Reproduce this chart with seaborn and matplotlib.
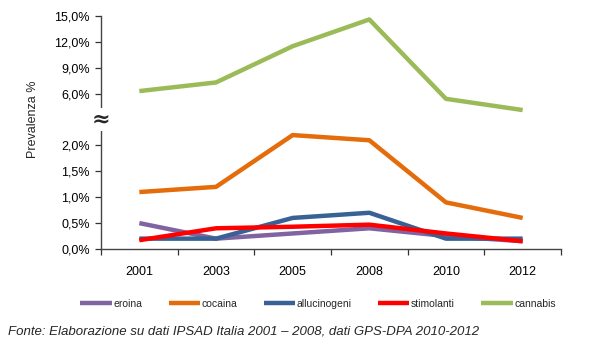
import numpy as np
import pandas as pd
import matplotlib
matplotlib.use("Agg")
import matplotlib.pyplot as plt
from matplotlib.lines import Line2D
import seaborn as sns

years = ["2001", "2003", "2005", "2008", "2010", "2012"]
eroina = [0.5, 0.2, 0.3, 0.4, 0.25, 0.15]
cocaina = [1.1, 1.2, 2.2, 2.1, 0.9, 0.6]
allucinogeni = [0.2, 0.2, 0.6, 0.7, 0.2, 0.2]
stimolanti = [0.17, 0.4, 0.43, 0.47, 0.3, 0.15]
cannabis = [6.3, 7.3, 11.5, 14.6, 5.4, 4.1]

series_names = ["eroina", "cocaina", "allucinogeni", "stimolanti", "cannabis"]
series_vals = [eroina, cocaina, allucinogeni, stimolanti, cannabis]
colors = ["#8064A2", "#E46C0A", "#386295", "#FF0000", "#9BBB59"]
ytick_vals = [0.0, 0.5, 1.0, 1.5, 2.0, 6.0, 9.0, 12.0, 15.0]

rows = []
for name, vals in zip(series_names, series_vals):
    for i, (y, v) in enumerate(zip(years, vals)):
        rows.append({"pos": i, "anno": y, "valore": v, "sostanza": name})
df = pd.DataFrame(rows)

sns.set_style("ticks")
plt.rcParams["font.family"] = ["Liberation Sans", "DejaVu Sans"]

# broken axis: linear 0-2.4 (0.5 per step), then 3 per step above
def fwd(v):
    v = np.asarray(v, dtype=float)
    return np.where(v <= 2.4, 2.0 * v, 4.0 + v / 3.0)

def inv(s):
    s = np.asarray(s, dtype=float)
    return np.where(s <= 4.8, s / 2.0, 3.0 * (s - 4.0))

fig = plt.figure(figsize=(6.12, 3.49), dpi=100)
ax = fig.add_axes([101 / 612, 1 - 249 / 349, 460 / 612, 233 / 349])
ax.set_yscale("function", functions=(fwd, inv))

sns.lineplot(data=df, x="pos", y="valore", hue="sostanza", hue_order=series_names,
             palette=colors, linewidth=3.2, legend=False, ax=ax, sort=False)
for line in ax.get_lines():
    line.set_solid_capstyle("butt")
    line.set_solid_joinstyle("round")

ax.set_xlim(-0.5, len(years) - 0.5)
ax.set_ylim(0, 15)
ax.set_xticks(range(len(years)))
ax.set_xticklabels(years, fontsize=9)
ax.set_xticks(np.arange(-0.5, len(years), 1.0), minor=True)
ax.tick_params(axis="x", which="major", length=0, pad=12)
ax.tick_params(axis="x", which="minor", length=4, width=0.9, direction="out", colors="#333333")
ax.set_yticks(ytick_vals)
ax.yaxis.set_minor_locator(matplotlib.ticker.NullLocator())
ax.set_yticklabels([f"{v:.1f}%".replace(".", ",") for v in ytick_vals], fontsize=9)
ax.tick_params(axis="y", length=4, width=0.9, direction="out", pad=4, colors="#333333")
ax.tick_params(axis="both", labelcolor="black")
ax.set_xlabel("")
ax.set_ylabel("Prevalenza %", fontsize=9)
ax.yaxis.set_label_coords(-0.135, 0.555)
for s in ["top", "right"]:
    ax.spines[s].set_visible(False)
for s in ["left", "bottom"]:
    ax.spines[s].set_color("#444444")
    ax.spines[s].set_linewidth(1.0)

# break marker (data value 3.0 sits at the break position)
ax.text(0, 3.0, "≈", transform=ax.get_yaxis_transform(), ha="center", va="center",
        fontsize=16, fontweight="bold", family="DejaVu Serif",
        bbox=dict(facecolor="white", edgecolor="none", pad=0.5), clip_on=False)

handles = [Line2D([0], [0], color=c, lw=3.2, solid_capstyle="butt") for c in colors]
fig.legend(handles, series_names, loc="center", bbox_to_anchor=(318 / 612, 1 - 304 / 349),
           ncol=5, frameon=False, fontsize=7.5, handlelength=3.0, handletextpad=0.15,
           columnspacing=2.55)

fig.text(8 / 612, 1 - 331 / 349,
         "Fonte: Elaborazione su dati IPSAD Italia 2001 – 2008, dati GPS-DPA 2010-2012",
         fontsize=9.5, style="italic", ha="left", va="center")

fig.savefig("out.png", dpi=100)
